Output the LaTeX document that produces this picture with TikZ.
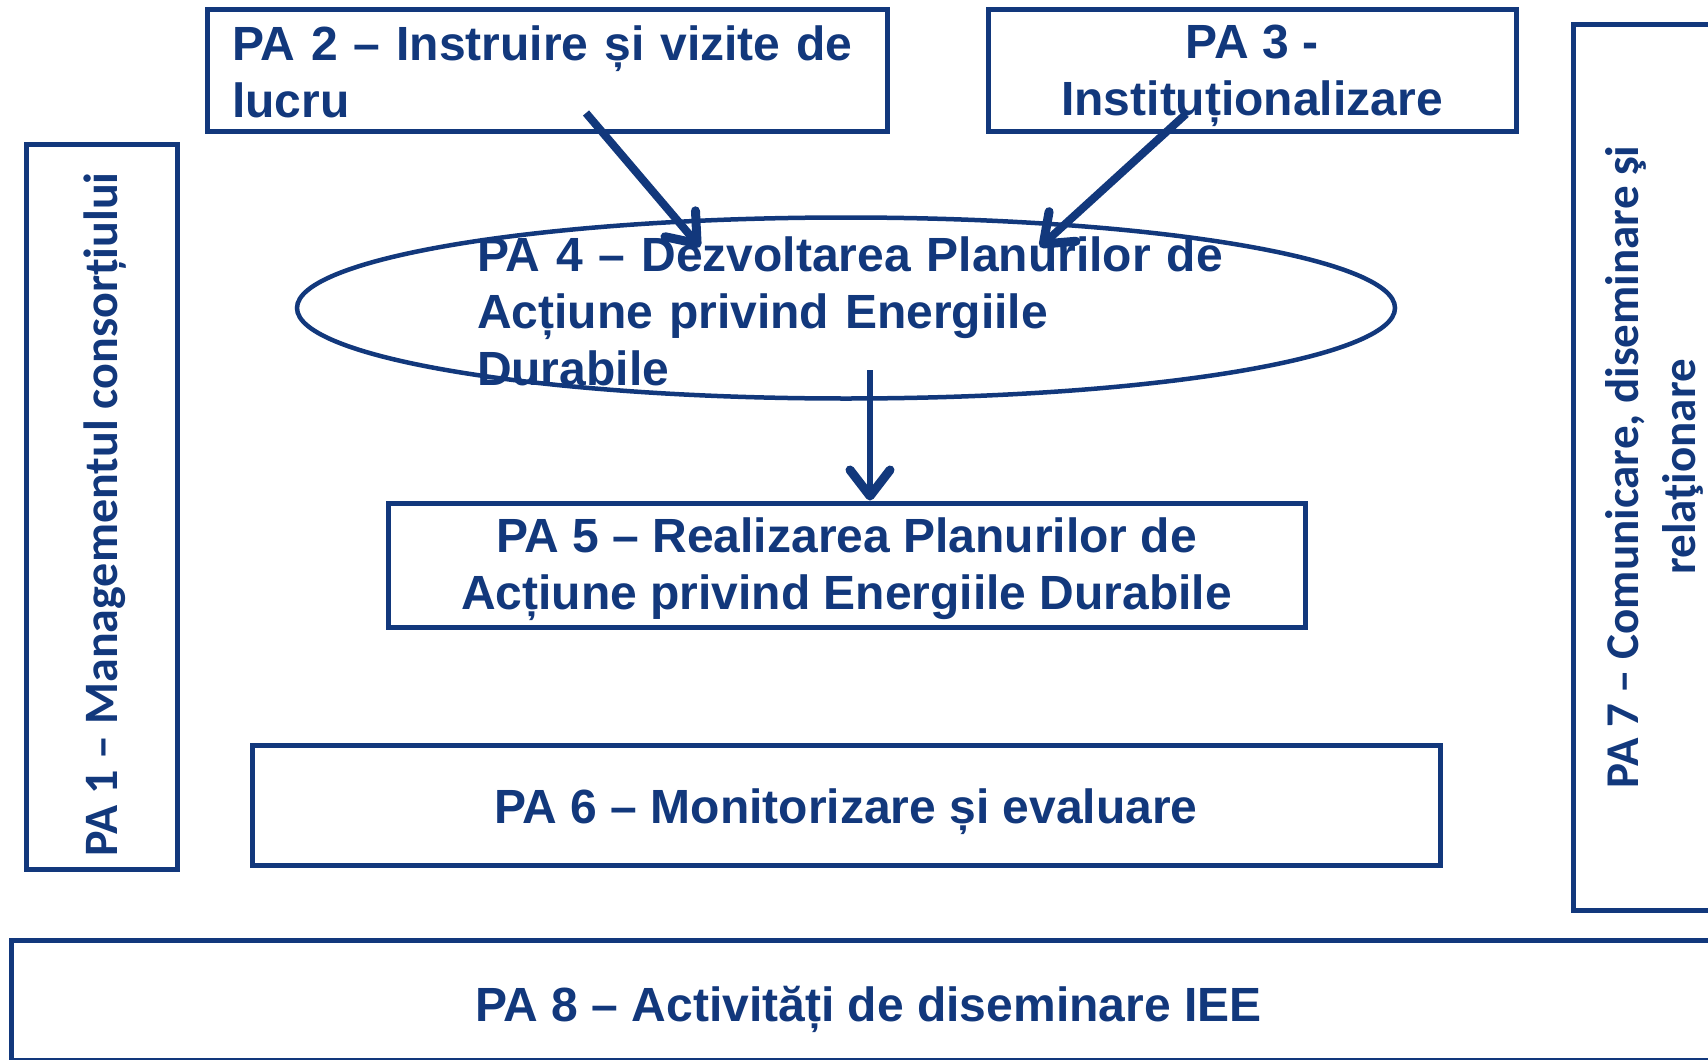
\documentclass[tikz,border=0pt]{standalone}
\usepackage{fontspec}
\setmainfont{Liberation Sans}
\newfontfamily\calfont{Carlito}
\usetikzlibrary{shapes.geometric,arrows.meta}
\definecolor{navy}{RGB}{18,56,124}
\begin{document}
\begin{tikzpicture}[x=1pt,y=-1pt,
  box/.style={draw=navy, line width=5pt, text=navy, inner sep=0pt,
    font=\bfseries\fontsize{48}{57}\selectfont},
  sidebox/.style={box, rotate=90, font=\calfont\bfseries\fontsize{48}{57}\selectfont},
  arr/.style={color=navy, line width=8pt,
    -{Straight Barb[length=26pt,width=40pt,line width=9pt,round]}},
  lbl/.style={text=navy, inner sep=0pt, font=\bfseries\fontsize{48}{57}\selectfont}]
\useasboundingbox (0,0) rectangle (1708,1060);
\clip (0,0) rectangle (1708,1060);
\fill[white] (0,0) rectangle (1708,1060);

% top boxes
\node[box, minimum width=680pt, minimum height=122pt, text width=630pt, align=left]
  (pa2) at (547,70) {\rule{0pt}{38pt}PA 2 – Instruire și vizite de\\lucru};
\node[box, minimum width=528pt, minimum height=122pt, align=center]
  (pa3) at (1252,70) {\rule{0pt}{45pt}PA 3 -\\Instituționalizare};

% side boxes
\node[sidebox, minimum width=725pt, minimum height=151pt, text height=42pt, text depth=10pt]
  (pa1) at (101.5,506.5) {PA 1 – Managementul consorțiului\hspace*{16pt}};
\node[sidebox, minimum width=886pt, minimum height=162pt, align=center,
    font=\calfont\bfseries\fontsize{47}{57}\selectfont]
  (pa7) at (1654,467) {PA 7 – Comunicare, diseminare şi\\relaţionare};

% ellipse
\node[ellipse, draw=navy, line width=4.5pt, minimum width=1098pt, minimum height=181pt, inner sep=0pt]
  (pa4) at (846,308) {};
\node[lbl, text width=760pt, align=left] (pa4t) at (857,311)
  {PA 4 – Dezvoltarea Planurilor de\\Acțiune privind Energiile\\Durabile};

% lower boxes
\node[box, minimum width=917pt, minimum height=124pt, align=center]
  (pa5) at (846.5,565) {\rule{0pt}{44pt}PA 5 – Realizarea Planurilor de\\Acțiune privind Energiile Durabile};
\node[box, minimum width=1188pt, minimum height=120pt, text height=45pt, text depth=10pt]
  (pa6) at (846,805.5) {PA 6 – Monitorizare și evaluare};
\node[box, minimum width=1715pt, minimum height=120pt, text height=48pt, text depth=6pt]
  (pa8) at (868.5,1000) {PA 8 – Activități de diseminare IEE};

% arrows
\coordinate (s1) at (586,113);
\coordinate (e1) at (700,247);
\coordinate (s2) at (1186,114);
\coordinate (e2) at (1040,247);
\coordinate (s3) at (870,370);
\draw[arr] (s1) -- (e1);
\draw[arr] (s2) -- (e2);
\draw[arr, line width=6.5pt] (s3) -- (s3 |- pa5.north);
\end{tikzpicture}
\end{document}
